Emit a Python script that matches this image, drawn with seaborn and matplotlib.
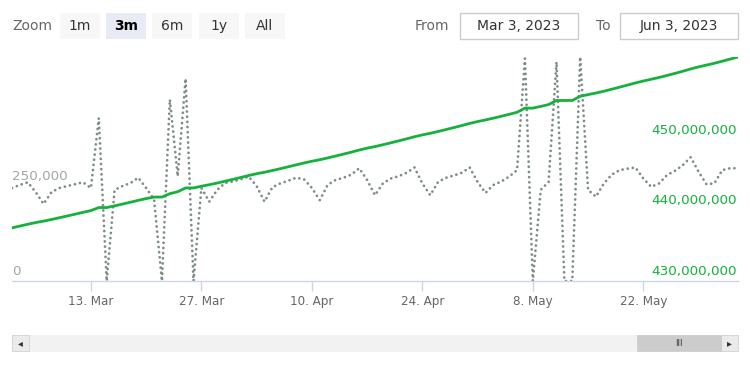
import numpy as np
import pandas as pd
import matplotlib
matplotlib.use("Agg")
import matplotlib.pyplot as plt
import seaborn as sns
from matplotlib.patches import Rectangle
from matplotlib import font_manager
from matplotlib.transforms import blended_transform_factory

# ---------------- data ----------------
start_date = "2023-03-03"
end_date = "2023-06-03"

daily_values = [
    245, 253, 260, 234, 203, 234, 245, 250, 255, 260,
    245, 429, 0, 240, 250, 258, 272, 245, 215, 0,
    478, 276, 533, 0, 245, 209, 240, 258, 262, 268,
    275, 250, 209, 247, 257, 264, 272, 268, 245, 213,
    253, 266, 272, 280, 297, 266, 226, 257, 270, 276,
    285, 299, 257, 226, 261, 272, 278, 285, 299, 261,
    232, 253, 262, 275, 292, 586, 0, 240, 261, 577,
    0, 0, 590, 240, 222, 257, 280, 292, 296, 299,
    270, 248, 257, 279, 290, 305, 326, 288, 255, 257,
    292, 297, 297,
]  # thousands

total_values = [
    437.500, 437.753, 438.013, 438.247, 438.450, 438.684, 438.929, 439.179, 439.434, 439.694,
    439.939, 440.368, 440.368, 440.608, 440.858, 441.116, 441.388, 441.633, 441.848, 441.848,
    442.326, 442.602, 443.135, 443.135, 443.380, 443.589, 443.829, 444.087, 444.349, 444.617,
    444.892, 445.142, 445.351, 445.598, 445.855, 446.119, 446.391, 446.659, 446.904, 447.117,
    447.370, 447.636, 447.908, 448.188, 448.485, 448.751, 448.977, 449.234, 449.504, 449.780,
    450.065, 450.364, 450.621, 450.847, 451.108, 451.380, 451.658, 451.943, 452.242, 452.503,
    452.735, 452.988, 453.250, 453.525, 453.817, 454.403, 454.403, 454.643, 454.904, 455.481,
    455.481, 455.481, 456.071, 456.311, 456.533, 456.790, 457.070, 457.362, 457.658, 457.957,
    458.227, 458.475, 458.732, 459.011, 459.301, 459.606, 459.932, 460.220, 460.475, 460.732,
    461.024, 461.321, 461.618,
]  # millions

tick_dates = ["2023-03-13", "2023-03-27", "2023-04-10", "2023-04-24", "2023-05-08", "2023-05-22"]
tick_labels = ["13. Mar", "27. Mar", "10. Apr", "24. Apr", "8. May", "22. May"]

left_ticks = [0, 250000]
left_tick_labels = ["0", "250,000"]
right_ticks = [430000000, 440000000, 450000000]
right_tick_labels = ["430,000,000", "440,000,000", "450,000,000"]

zoom_buttons = ["1m", "3m", "6m", "1y", "All"]
selected_button = "3m"
from_label = "Mar 3, 2023"
to_label = "Jun 3, 2023"

# ---------------- style ----------------
W, H = 750, 375
GRAY_LINE = "#7d8b8b"
GREEN = "#14b23c"
AXIS_COL = "#ccd6eb"

sns.set_theme(style="white")
plt.rcParams["font.family"] = ["DejaVu Sans"]

df = pd.DataFrame({
    "date": pd.date_range(start_date, end_date, freq="D"),
    "daily": np.array(daily_values, dtype=float) * 1000,
    "total": np.array(total_values) * 1e6,
})

fig = plt.figure(figsize=(W / 100, H / 100), dpi=100)


def fx(px):
    return px / W


def fy(py):
    return 1 - py / H


ax = fig.add_axes([fx(12), fy(281), fx(738) - fx(12), fy(57) - fy(281)])
ax.set_facecolor("none")

sns.lineplot(data=df, x="date", y="daily", ax=ax, color=GRAY_LINE, linewidth=2.0,
             linestyle=(0, (0.01, 1.85)), dash_capstyle="round", solid_capstyle="round")
ax2 = ax.twinx()
sns.lineplot(data=df, x="date", y="total", ax=ax2, color=GREEN, linewidth=2.0,
             solid_joinstyle="round")

ax.set_xlim(pd.Timestamp(start_date), pd.Timestamp(end_date))
ax.set_ylim(0, df["daily"].max())
ax2.set_ylim(right_ticks[0], df["total"].max())

for a in (ax, ax2):
    a.set_xlabel("")
    a.set_ylabel("")
    a.grid(False)
    for s in a.spines.values():
        s.set_visible(False)
    a.set_yticks([])

ax.spines["bottom"].set_visible(True)
ax.spines["bottom"].set_color(AXIS_COL)
ax.spines["bottom"].set_linewidth(1)
ax.set_xticks(pd.to_datetime(tick_dates))
ax.set_xticklabels(tick_labels, fontsize=9.5, color="#666666", family="DejaVu Sans",
                   fontstretch="condensed")
ax.tick_params(axis="x", direction="out", length=7, width=1, color=AXIS_COL, pad=3, bottom=True)

# left axis labels (inside, above their value)
tl = blended_transform_factory(ax.transAxes, ax.transData)
for v, lab in zip(left_ticks, left_tick_labels):
    ax.annotate(lab, xy=(0, v), xycoords=tl, xytext=(0, 2), textcoords="offset points",
                ha="left", va="bottom", fontsize=9.7, color="#a0a8a8")

tr = blended_transform_factory(ax2.transAxes, ax2.transData)
for v, lab in zip(right_ticks, right_tick_labels):
    ax2.annotate(lab, xy=(1, v), xycoords=tr, xytext=(-1, 2), textcoords="offset points",
                 ha="right", va="bottom", fontsize=9.7, color=GREEN)


# ---------------- range selector ----------------
def rect(x0, y0, x1, y1, fc, ec="none", lw=0):
    fig.patches.append(Rectangle((fx(x0), fy(y1)), fx(x1) - fx(x0), fy(y0) - fy(y1),
                                 transform=fig.transFigure, facecolor=fc, edgecolor=ec,
                                 linewidth=lw, zorder=0))


fig.text(fx(12), fy(26), "Zoom", ha="left", va="center", fontsize=10, color="#666666")
btn_x = [60, 106, 152, 199, 245]
for bx, lab in zip(btn_x, zoom_buttons):
    sel = lab == selected_button
    rect(bx, 13, bx + 40, 39, "#e6ebf5" if sel else "#f7f7f7")
    fig.text(fx(bx + 20), fy(26), lab, ha="center", va="center", fontsize=10,
             color="#000000" if sel else "#333333", fontweight="bold" if sel else "normal")

fig.text(fx(449), fy(26), "From", ha="right", va="center", fontsize=10, color="#666666")
rect(460, 13, 578, 39, "white", "#cccccc", 1)
fig.text(fx(519), fy(26), from_label, ha="center", va="center", fontsize=10, color="#333333")
fig.text(fx(611), fy(26), "To", ha="right", va="center", fontsize=10, color="#666666")
rect(620, 13, 738, 39, "white", "#cccccc", 1)
fig.text(fx(679), fy(26), to_label, ha="center", va="center", fontsize=10, color="#333333")

# ---------------- scrollbar ----------------
rect(12, 335, 738, 351, "#f2f2f2", "#f2f2f2", 0.5)
rect(12, 335, 29, 351, "#ebebeb", "#cccccc", 0.5)
rect(721, 335, 738, 351, "#ebebeb", "#cccccc", 0.5)
rect(637, 335, 721, 351, "#cccccc", "#cccccc", 0.5)
fig.text(fx(20.5), fy(343), "\u25c2", ha="center", va="center", fontsize=7, color="#333333")
fig.text(fx(729.5), fy(343), "\u25b8", ha="center", va="center", fontsize=7, color="#333333")
fig.text(fx(679), fy(343), "III", ha="center", va="center", fontsize=6, color="#333333")

fig.savefig("out.png", dpi=100)
